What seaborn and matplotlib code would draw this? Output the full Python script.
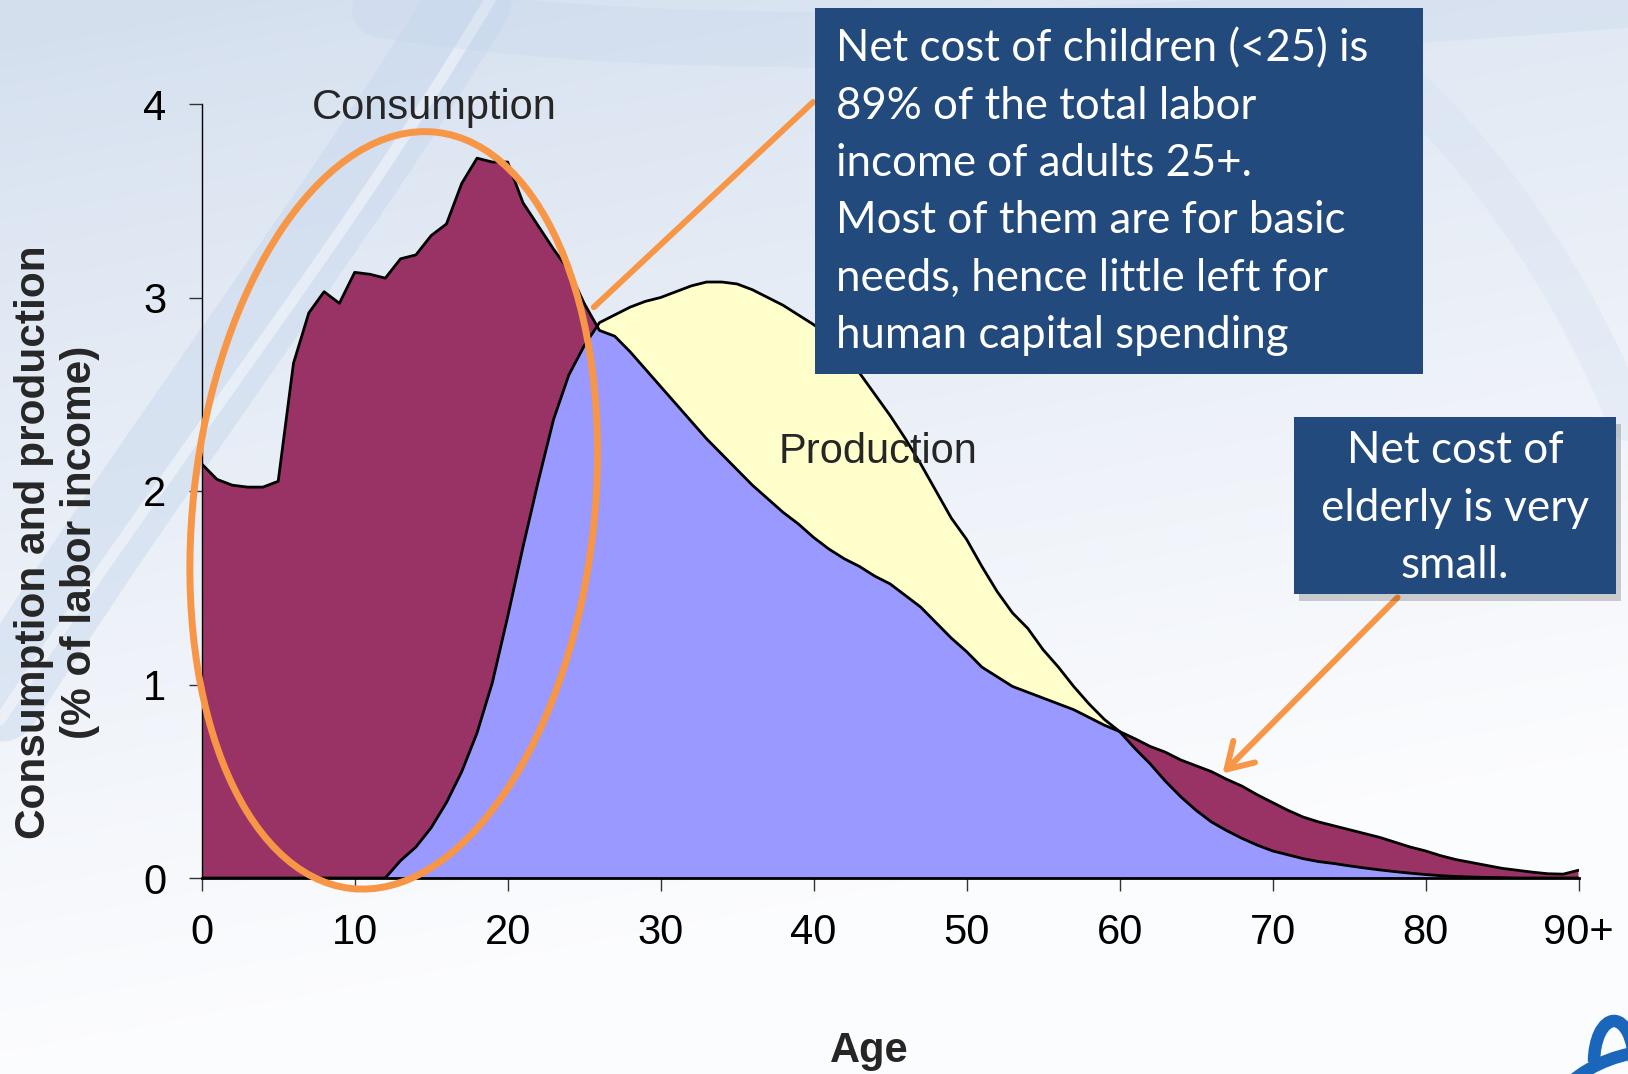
import numpy as np
import matplotlib
matplotlib.use("Agg")
import matplotlib.pyplot as plt
import seaborn as sns
from matplotlib.patches import Ellipse, Rectangle, Arc, PathPatch
from matplotlib.path import Path
import matplotlib.transforms as mtransforms

# ---------------- data ----------------
ages = list(range(0, 91))
consumption = [
    2.14, 2.06, 2.03, 2.02, 2.02, 2.05, 2.66, 2.92, 3.03, 2.97,   # 0-9
    3.13, 3.12, 3.10, 3.20, 3.22, 3.32, 3.38, 3.59, 3.72, 3.70,   # 10-19
    3.70, 3.49, 3.37, 3.25, 3.14, 2.97, 2.83, 2.80, 2.72, 2.63,   # 20-29
    2.54, 2.45, 2.36, 2.27, 2.19, 2.11, 2.03, 1.96, 1.89, 1.83,   # 30-39
    1.76, 1.70, 1.65, 1.61, 1.56, 1.52, 1.46, 1.40, 1.32, 1.24,   # 40-49
    1.17, 1.09, 1.04, 0.99, 0.96, 0.93, 0.90, 0.87, 0.83, 0.79,   # 50-59
    0.757, 0.72, 0.68, 0.65, 0.61, 0.58, 0.55, 0.51, 0.475, 0.43, # 60-69
    0.39, 0.35, 0.315, 0.29, 0.27, 0.25, 0.23, 0.21, 0.185, 0.16, # 70-79
    0.14, 0.115, 0.095, 0.08, 0.065, 0.05, 0.04, 0.03, 0.022, 0.02, # 80-89
    0.04,                                                          # 90+
]
production = [
    0, 0, 0, 0, 0, 0, 0, 0, 0, 0,                                  # 0-9
    0, 0, 0.0, 0.09, 0.16, 0.26, 0.39, 0.55, 0.75, 1.01,           # 10-19
    1.35, 1.71, 2.05, 2.37, 2.60, 2.75, 2.87, 2.91, 2.95, 2.98,    # 20-29
    3.00, 3.03, 3.06, 3.08, 3.08, 3.07, 3.04, 3.00, 2.96, 2.91,    # 30-39
    2.86, 2.80, 2.71, 2.61, 2.50, 2.39, 2.27, 2.14, 2.00, 1.86,    # 40-49
    1.75, 1.61, 1.48, 1.37, 1.29, 1.18, 1.09, 0.99, 0.90, 0.82,    # 50-59
    0.757, 0.67, 0.59, 0.50, 0.42, 0.35, 0.29, 0.245, 0.205, 0.17, # 60-69
    0.14, 0.12, 0.10, 0.085, 0.075, 0.063, 0.052, 0.042, 0.033, 0.025, # 70-79
    0.018, 0.012, 0.008, 0.005, 0.003, 0.002, 0, 0, 0, 0,          # 80-89
    0,                                                             # 90+
]
x_ticks = [0, 10, 20, 30, 40, 50, 60, 70, 80, 90]
x_tick_labels = ["0", "10", "20", "30", "40", "50", "60", "70", "80", "90+"]
y_ticks = [0, 1, 2, 3, 4]
y_tick_labels = ["0", "1", "2", "3", "4"]

box1_lines = ["Net cost of children (<25) is",
              "89% of the total labor",
              "income of adults 25+.",
              "Most of them are for basic",
              "needs, hence little left for",
              "human capital spending"]
box2_lines = ["Net cost of", "elderly is very", "small."]

C_COL = "#993366"
P_COL = "#ffffcc"
B_COL = "#9999ff"
ORANGE = "#f79646"
BOX_COL = "#224a7d"

# ---------------- setup ----------------
sns.set_theme(style="white")
plt.rcParams['font.family'] = ['Liberation Sans', 'DejaVu Sans']

W, H = 1628, 1074
fig = plt.figure(figsize=(W / 100, H / 100), dpi=100)

def fx(px):
    return px / W

def fy(py):
    return 1 - py / H

# ---------------- background ----------------
bg = fig.add_axes([0, 0, 1, 1])
bg.set_zorder(-10)
bg.set_xlim(0, W)
bg.set_ylim(H, 0)
bg.axis("off")
gy, gx = np.mgrid[0:1:200j, 0:1:300j]
top = np.array([0.835, 0.878, 0.937])
bot = np.array([0.988, 0.990, 0.997])
s = np.clip(gy * 1.05 + 0.3 * gx - 0.05, 0, 1) ** 0.85
img = top[None, None, :] * (1 - s[..., None]) + bot[None, None, :] * s[..., None]
bg.imshow(img, extent=[0, W, H, 0], aspect="auto", interpolation="bicubic")
# faint decorative swooshes
for verts, lw, col, a in [
    ([(0, 700), (180, 420), (330, 230), (470, 0)], 60, "#c9d9ee", 0.5),
    ([(0, 720), (185, 440), (340, 250), (490, 0)], 8, "#ffffff", 0.45),
    ([(380, 10), (700, 60), (1100, 40), (1628, 0)], 40, "#c6d6ec", 0.3),
    ([(1300, 0), (1480, 120), (1580, 300), (1628, 420)], 30, "#d0ddef", 0.3),
]:
    path = Path(verts, [Path.MOVETO, Path.CURVE4, Path.CURVE4, Path.CURVE4])
    bg.add_patch(PathPatch(path, fill=False, lw=lw, edgecolor=col, alpha=a,
                           capstyle="round"))
# partial logo at bottom right (y axis inverted: upper half is 180..360)
bg.add_patch(Arc((1665, 1135), 240, 170, theta1=180, theta2=360, lw=9,
                 color="#1a66bb"))
bg.add_patch(Arc((1614, 1062), 40, 82, theta1=180, theta2=360, lw=9,
                 color="#1a66bb"))

# ---------------- main axes ----------------
ax = fig.add_axes([fx(201.7), fy(878), (1578.5 - 201.7) / W, (878 - 104) / H])
ax.patch.set_alpha(0)

x = np.array(ages, dtype=float)
C = np.array(consumption)
P = np.array(production)

ax.fill_between(x, 0, P, color=B_COL, lw=0, zorder=1)
ax.fill_between(x, P, C, where=C >= P, interpolate=True, color=C_COL, lw=0, zorder=2)
ax.fill_between(x, C, P, where=P > C, interpolate=True, color=P_COL, lw=0, zorder=2)
sns.lineplot(x=x, y=C, ax=ax, color="black", lw=2.0, zorder=4)
sns.lineplot(x=x, y=P, ax=ax, color="black", lw=2.0, zorder=4)

ax.set_xlim(0, 90)
ax.set_ylim(0, 4)
ax.set_xticks(x_ticks, x_tick_labels)
ax.set_yticks(y_ticks, y_tick_labels)
ax.tick_params(axis="both", which="both", direction="out", length=9.5, width=1.0,
               color="#333333", labelsize=30, labelcolor="black")
ax.tick_params(axis="x", bottom=True, pad=16)
ax.tick_params(axis="y", left=True, pad=16)
for side in ["top", "right"]:
    ax.spines[side].set_visible(False)
for side in ["left", "bottom"]:
    ax.spines[side].set_color("black")
    ax.spines[side].set_linewidth(1.0)
ax.spines["bottom"].set_linewidth(2.0)
ax.set_xlabel("")
ax.set_ylabel("")

ax.text(15.2, 3.98, "Consumption", fontsize=30, ha="center", va="center", zorder=6)
ax.text(44.2, 2.2, "Production", fontsize=30, ha="center", va="center", zorder=6)

# orange ellipse around children
ell_trans = fig.dpi_scale_trans + mtransforms.ScaledTranslation(12.55, 1.90, ax.transData)
ax.add_patch(Ellipse((0, 0), 4.01, 7.61, angle=-6.5, transform=ell_trans,
                     fill=False, edgecolor=ORANGE, lw=5.0, zorder=8, clip_on=False))

# arrows
ax.annotate("", xy=(25.5, 2.94), xytext=(40.1, 4.02),
            arrowprops=dict(arrowstyle="-", color=ORANGE, lw=4.3, capstyle="round"),
            annotation_clip=False, zorder=9)
ax.annotate("", xy=(66.6, 0.53), xytext=(78.3, 1.46),
            arrowprops=dict(arrowstyle="->,head_length=0.9,head_width=0.55",
                            color=ORANGE, lw=4.3, mutation_scale=20),
            annotation_clip=False, zorder=9)

# axis titles
fig.text(fx(57), fy(542), "Consumption and production\n(% of labor income)",
         rotation=90, ha="center", va="center", fontsize=30.5, fontweight="bold",
         linespacing=1.2, multialignment="center")
fig.text(fx(869), fy(1051), "Age", ha="center", va="center", fontsize=30,
         fontweight="bold")

# ---------------- text boxes ----------------
fig.patches.append(Rectangle((fx(815), fy(374)), (1423 - 815) / W, (374 - 8) / H,
                             transform=fig.transFigure, facecolor=BOX_COL,
                             edgecolor="none", zorder=20))
fig.patches.append(Rectangle((fx(1299), fy(601)), (1616 - 1294) / W, (594 - 417) / H,
                             transform=fig.transFigure, facecolor="#000000",
                             alpha=0.18, edgecolor="none", zorder=19))
fig.patches.append(Rectangle((fx(1294), fy(594)), (1616 - 1294) / W, (594 - 417) / H,
                             transform=fig.transFigure, facecolor=BOX_COL,
                             edgecolor="none", zorder=20))

box_font = ["Lato", "DejaVu Sans"]
t1 = []
for i, line in enumerate(box1_lines):
    t1.append(fig.text(fx(836), fy(48.8 + 57.3 * i), line, ha="left", va="center",
                       color="white", fontsize=32, family=box_font, zorder=21))
t2 = []
for i, line in enumerate(box2_lines):
    t2.append(fig.text(fx(1455), fy(450.6 + 57.7 * i), line, ha="center", va="center",
                       color="white", fontsize=32, family=box_font, zorder=21))

fig.canvas.draw()
r = fig.canvas.get_renderer()
w1 = t1[0].get_window_extent(r).width
sz1 = 32 * 532.6 / w1
for t in t1:
    t.set_fontsize(sz1)
w2 = t2[1].get_window_extent(r).width
sz2 = 32 * 268.0 / w2
for t in t2:
    t.set_fontsize(sz2)

fig.savefig("out.png", dpi=100)
